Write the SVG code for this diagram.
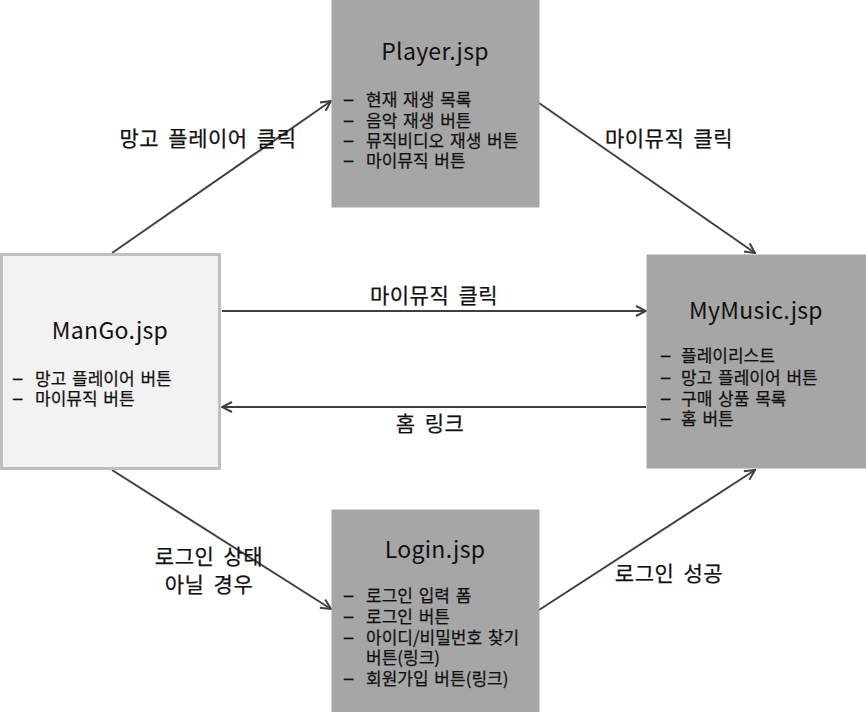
<svg xmlns="http://www.w3.org/2000/svg" width="866" height="712" viewBox="0 0 866 712">
<style>
text{font-family:"Noto Sans CJK KR","Noto Sans",sans-serif;fill:#111}
.t{font-size:23px;text-anchor:middle;letter-spacing:0.3px}
.i{font-size:17px;word-spacing:2px;stroke:#111;stroke-width:0.25}
.d{font-size:21px;stroke:#111;stroke-width:0.3}
.l{font-size:21px;text-anchor:middle;word-spacing:4px;letter-spacing:0.5px;stroke:#111;stroke-width:0.25}
.box{fill:#a6a6a6;stroke:#a6a6a6;stroke-width:3}
.c{stroke:#404040;stroke-width:2;fill:none;marker-end:url(#ah)}
</style>
<defs>
<marker id="ah" viewBox="0 0 12 12" refX="11" refY="6" markerWidth="12" markerHeight="12" markerUnits="userSpaceOnUse" orient="auto">
<path d="M1,1 L11,6 L1,11" fill="none" stroke="#404040" stroke-width="2"/>
</marker>
</defs>
<rect width="866" height="712" fill="#fff"/>
<g id="connectors">
<line class="c" x1="112" y1="253" x2="331" y2="101"/>
<line class="c" x1="539" y1="103" x2="755" y2="253"/>
<line class="c" x1="222" y1="311" x2="646" y2="311"/>
<line class="c" x1="646" y1="407" x2="222" y2="407"/>
<line class="c" x1="112" y1="470" x2="331" y2="609"/>
<line class="c" x1="539" y1="610" x2="755" y2="470"/>
<text class="l" x="208" y="146">망고 플레이어 클릭</text>
<text class="l" x="669" y="146">마이뮤직 클릭</text>
<text class="l" x="434" y="303">마이뮤직 클릭</text>
<text class="l" x="430" y="431">홈 링크</text>
<text class="l" x="209" y="564">로그인 상태</text>
<text class="l" x="209" y="592">아닐 경우</text>
<text class="l" x="669" y="581">로그인 성공</text>
</g>
<g id="player">
<rect class="box" x="333" y="0" width="205" height="206"/>
<text class="t" x="435" y="60">Player.jsp</text>
<text class="d" x="343" y="106">–</text><text class="i" x="366" y="106">현재 재생 목록</text>
<text class="d" x="343" y="127">–</text><text class="i" x="366" y="127">음악 재생 버튼</text>
<text class="d" x="343" y="147">–</text><text class="i" x="366" y="147">뮤직비디오 재생 버튼</text>
<text class="d" x="343" y="167">–</text><text class="i" x="366" y="167">마이뮤직 버튼</text>
</g>
<g id="mango">
<rect x="1.5" y="254.5" width="218" height="214" fill="#f2f2f2" stroke="#bfbfbf" stroke-width="3"/>
<text class="t" x="110" y="339">ManGo.jsp</text>
<text class="d" x="12" y="385">–</text><text class="i" x="35" y="385">망고 플레이어 버튼</text>
<text class="d" x="12" y="405">–</text><text class="i" x="35" y="405">마이뮤직 버튼</text>
</g>
<g id="mymusic">
<rect class="box" x="648" y="256" width="217" height="211"/>
<text class="t" x="756" y="319">MyMusic.jsp</text>
<text class="d" x="660" y="362">–</text><text class="i" x="681" y="362">플레이리스트</text>
<text class="d" x="660" y="384">–</text><text class="i" x="681" y="384">망고 플레이어 버튼</text>
<text class="d" x="660" y="405">–</text><text class="i" x="681" y="405">구매 상품 목록</text>
<text class="d" x="660" y="425">–</text><text class="i" x="681" y="425">홈 버튼</text>
</g>
<g id="login">
<rect class="box" x="333" y="511" width="205" height="201"/>
<text class="t" x="435" y="558">Login.jsp</text>
<text class="d" x="343" y="602">–</text><text class="i" x="366" y="602">로그인 입력 폼</text>
<text class="d" x="343" y="623">–</text><text class="i" x="366" y="623">로그인 버튼</text>
<text class="d" x="343" y="644">–</text><text class="i" x="366" y="644">아이디/비밀번호 찾기</text>
<text class="i" x="366" y="664">버튼(링크)</text>
<text class="d" x="343" y="685">–</text><text class="i" x="366" y="685">회원가입 버튼(링크)</text>
</g>
</svg>
